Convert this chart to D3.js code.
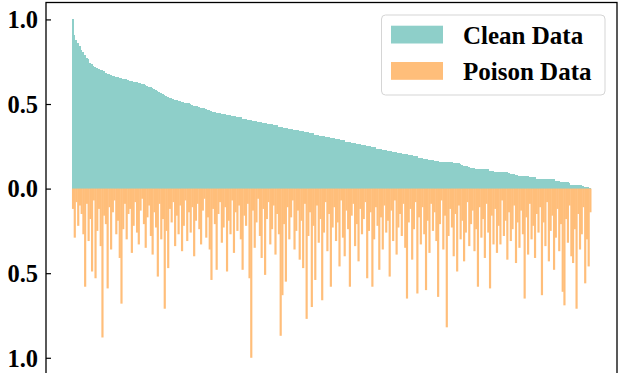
<!DOCTYPE html>
<html>
<head>
<meta charset="utf-8">
<script src="https://cdn.jsdelivr.net/npm/d3@7"></script>
<style>
  body { margin: 0; background: #fff; }
  svg { display: block; }
</style>
</head>
<body>
<div id="chart"></div>
<script>
// clean scores, sorted high -> low
const cleanValues = [
  1.00, 0.91, 0.88, 0.86, 0.845, 0.82, 0.81, 0.79, 0.77, 0.765,
  0.745, 0.735, 0.725, 0.72, 0.71, 0.705, 0.70, 0.70, 0.695, 0.685,
  0.68, 0.675, 0.672, 0.668, 0.663, 0.659, 0.657, 0.655, 0.651, 0.648,
  0.647, 0.645, 0.642, 0.638, 0.636, 0.633, 0.633, 0.63, 0.627, 0.624,
  0.62, 0.617, 0.612, 0.607, 0.603, 0.60, 0.595, 0.588, 0.58, 0.575,
  0.57, 0.565, 0.558, 0.552, 0.547, 0.542, 0.538, 0.533, 0.528, 0.525,
  0.522, 0.52, 0.517, 0.513, 0.51, 0.508, 0.507, 0.505, 0.50, 0.495,
  0.49, 0.489, 0.486, 0.482, 0.479, 0.476, 0.474, 0.47, 0.466, 0.462,
  0.458, 0.455, 0.452,
  0.448, 0.448, 0.448, 0.441, 0.441, 0.441, 0.434, 0.434, 0.434, 0.428, 0.428, 0.428,
  0.421, 0.421, 0.421, 0.414, 0.414, 0.414, 0.407, 0.407, 0.407, 0.400, 0.400, 0.400,
  0.394, 0.394, 0.394, 0.387, 0.387, 0.387, 0.380, 0.380, 0.380, 0.373, 0.373, 0.373,
  0.366, 0.366, 0.366, 0.360, 0.360, 0.360, 0.353, 0.353, 0.353, 0.346, 0.346, 0.346,
  0.339, 0.339, 0.339, 0.332, 0.332, 0.332, 0.326, 0.326, 0.326, 0.319, 0.319, 0.319,
  0.312, 0.312, 0.312, 0.305, 0.305, 0.305, 0.298, 0.298, 0.298, 0.292, 0.292, 0.292,
  0.285, 0.285, 0.285, 0.278, 0.278, 0.278, 0.271, 0.271, 0.271, 0.264, 0.264, 0.264,
  0.258, 0.258, 0.258, 0.251, 0.251, 0.251, 0.244, 0.244, 0.244, 0.237, 0.237, 0.237,
  0.230, 0.230, 0.230, 0.224, 0.224, 0.224, 0.217, 0.217, 0.217, 0.210, 0.210, 0.210,
  0.203, 0.203, 0.203, 0.196, 0.196, 0.196, 0.190, 0.190, 0.190, 0.183, 0.183, 0.183,
  0.176, 0.176, 0.176, 0.169, 0.169, 0.169, 0.163, 0.163, 0.163,
  0.16, 0.16, 0.16, 0.159, 0.159, 0.158, 0.158, 0.157,
  0.15, 0.15, 0.15, 0.149, 0.148, 0.137, 0.136, 0.136, 0.135, 0.125,
  0.124, 0.124, 0.123, 0.118, 0.118, 0.117, 0.117, 0.117, 0.116, 0.116,
  0.115, 0.106, 0.105, 0.104, 0.098, 0.098, 0.097, 0.097, 0.097, 0.096,
  0.096, 0.096, 0.095, 0.088, 0.087, 0.086, 0.078, 0.078, 0.077, 0.077,
  0.077, 0.076, 0.076, 0.075, 0.068, 0.067, 0.067, 0.066, 0.058, 0.058,
  0.057, 0.057, 0.057, 0.057, 0.056, 0.056, 0.056, 0.055, 0.055, 0.047,
  0.046, 0.045, 0.039, 0.038, 0.038, 0.037, 0.037, 0.036, 0.023, 0.022,
  0.022, 0.022, 0.021, 0.021, 0.02, 0.013, 0.012, 0.011, 0.01, 0.005
];

// poison scores, same order (drawn downwards)
const poisonValues = [
  0.12, 0.29, 0.08, 0.22, 0.10, 0.15, 0.27, 0.58, 0.09, 0.31, 0.18, 0.49, 0.07, 0.53, 0.25, 0.12, 0.34, 0.88, 0.16, 0.21,
  0.59, 0.11, 0.36, 0.14, 0.07, 0.27, 0.19, 0.41, 0.68, 0.24, 0.09, 0.30, 0.15, 0.12, 0.38, 0.22, 0.08, 0.26, 0.33, 0.13,
  0.06, 0.21, 0.35, 0.17, 0.10, 0.28, 0.39, 0.14, 0.23, 0.52, 0.09, 0.30, 0.18, 0.71, 0.25, 0.47, 0.12, 0.20, 0.08, 0.34,
  0.16, 0.27, 0.10, 0.37, 0.22, 0.07, 0.31, 0.14, 0.26, 0.11, 0.40, 0.19, 0.09, 0.24, 0.33, 0.13, 0.06, 0.29, 0.17, 0.36,
  0.54, 0.12, 0.21, 0.48, 0.15, 0.08, 0.32, 0.23, 0.11, 0.49, 0.19, 0.27, 0.07, 0.38, 0.14, 0.25, 0.10, 0.30, 0.48, 0.16,
  0.22, 0.09, 0.53, 1.00, 0.13, 0.35, 0.20, 0.06, 0.28, 0.41, 0.12, 0.51, 0.18, 0.08, 0.33, 0.24, 0.10, 0.39, 0.15, 0.27,
  0.87, 0.63, 0.21, 0.55, 0.11, 0.30, 0.17, 0.07, 0.36, 0.25, 0.13, 0.42, 0.19, 0.47, 0.09, 0.77, 0.28, 0.14, 0.70, 0.22,
  0.54, 0.10, 0.32, 0.18, 0.66, 0.26, 0.08, 0.37, 0.15, 0.58, 0.23, 0.11, 0.31, 0.20, 0.46, 0.07, 0.29, 0.40, 0.13, 0.24,
  0.58, 0.16, 0.09, 0.34, 0.21, 0.43, 0.12, 0.27, 0.18, 0.08, 0.53, 0.25, 0.14, 0.58, 0.30, 0.11, 0.22, 0.48, 0.17, 0.36,
  0.10, 0.26, 0.19, 0.52, 0.13, 0.31, 0.07, 0.39, 0.23, 0.15, 0.28, 0.09, 0.35, 0.65, 0.20, 0.12, 0.42, 0.24, 0.08, 0.62,
  0.17, 0.33, 0.11, 0.27, 0.60, 0.19, 0.38, 0.09, 0.25, 0.14, 0.31, 0.64, 0.21, 0.07, 0.36, 0.16, 0.82, 0.28, 0.12, 0.23,
  0.40, 0.15, 0.49, 0.10, 0.30, 0.19, 0.43, 0.26, 0.08, 0.34, 0.21, 0.13, 0.37, 0.24, 0.58, 0.11, 0.29, 0.18, 0.41, 0.09,
  0.26, 0.59, 0.16, 0.33, 0.12, 0.38, 0.22, 0.33, 0.07, 0.28, 0.19, 0.42, 0.14, 0.31, 0.24, 0.10, 0.44, 0.20, 0.35, 0.13,
  0.27, 0.65, 0.17, 0.39, 0.09, 0.30, 0.22, 0.41, 0.15, 0.26, 0.11, 0.63, 0.20, 0.34, 0.08, 0.43, 0.25, 0.16, 0.48, 0.29,
  0.12, 0.37, 0.21, 0.61, 0.69, 0.18, 0.32, 0.10, 0.40, 0.44, 0.24, 0.71, 0.15, 0.36, 0.27, 0.11, 0.56, 0.30, 0.46, 0.14
];

const seriesNames = ["Clean Data", "Poison Data"];
const yTicks = [-1, -0.5, 0, 0.5, 1];

const width = 618;
const height = 373;
const marginLeft = 46;
const marginRight = 1;
const marginTop = 2.5;
const plotBottom = 374.7;
const colors = ["#8ecfc9", "#ffbe7a"];
const font = "'Liberation Serif', 'Times New Roman', serif";

const n = cleanValues.length;

const svg = d3.select("#chart")
  .append("svg")
  .attr("width", width)
  .attr("height", height)
  .attr("viewBox", [0, 0, width, height]);

// matplotlib-like 5% side margins
const x = d3.scaleLinear()
  .domain([-0.5 - 0.05 * n, n - 0.5 + 0.05 * n])
  .range([marginLeft, width - marginRight]);

const y = d3.scaleLinear()
  .domain([-1.1, 1.1])
  .range([plotBottom, marginTop]);

const bw = x(1) - x(0);

// clean bars form one solid area, snap them so no seams show
svg.append("g")
  .attr("fill", colors[0])
  .attr("shape-rendering", "crispEdges")
  .selectAll("rect")
  .data(cleanValues)
  .join("rect")
    .attr("x", (d, i) => x(i - 0.5))
    .attr("y", d => y(d))
    .attr("width", bw)
    .attr("height", d => y(0) - y(d));

svg.append("g")
  .attr("fill", colors[1])
  .selectAll("rect")
  .data(poisonValues)
  .join("rect")
    .attr("x", (d, i) => x(i - 0.5))
    .attr("y", y(0))
    .attr("width", bw + 0.45)
    .attr("height", d => y(-d) - y(0));

// y axis, ticks pointing inwards
const gy = svg.append("g")
  .attr("transform", `translate(${marginLeft},0)`)
  .call(d3.axisLeft(y)
    .tickValues(yTicks)
    .tickSizeInner(-5)
    .tickSizeOuter(0)
    .tickPadding(8)
    .tickFormat(d => Math.abs(d).toFixed(1)));
gy.select(".domain").remove();
gy.selectAll(".tick line").attr("stroke", "#000").attr("stroke-width", 1.2);
gy.selectAll(".tick text")
  .attr("fill", "#000")
  .attr("dy", "0.34em")
  .style("font-family", font)
  .style("font-weight", "bold")
  .style("font-size", "24.5px");

// frame
svg.append("rect")
  .attr("x", marginLeft)
  .attr("y", marginTop)
  .attr("width", width - marginRight - marginLeft)
  .attr("height", plotBottom - marginTop)
  .attr("fill", "none")
  .attr("stroke", "#000")
  .attr("stroke-width", 1.3);

// legend
const legend = svg.append("g").attr("transform", "translate(381.5,15)");
legend.append("rect")
  .attr("width", 223.5)
  .attr("height", 80)
  .attr("rx", 4)
  .attr("fill", "#fff")
  .attr("fill-opacity", 0.8)
  .attr("stroke", "#d5d5d5");

seriesNames.forEach((name, i) => {
  legend.append("rect")
    .attr("x", 9.5)
    .attr("y", 10.7 + i * 36.3)
    .attr("width", 52)
    .attr("height", 17.8)
    .attr("fill", colors[i]);
  legend.append("text")
    .attr("x", 81.5)
    .attr("y", 28.6 + i * 36.3)
    .attr("fill", "#000")
    .style("font-family", font)
    .style("font-weight", "bold")
    .style("font-size", "25px")
    .text(name);
});
</script>
</body>
</html>
